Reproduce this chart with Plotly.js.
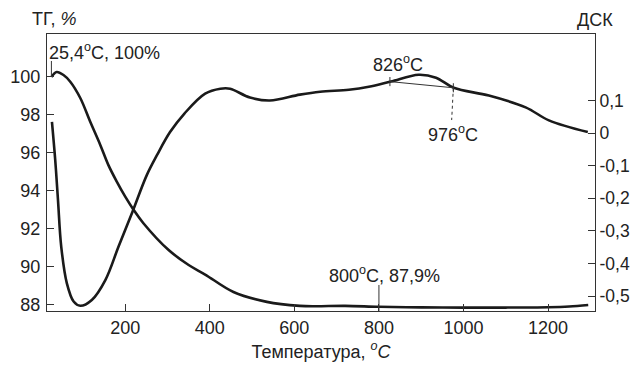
<!DOCTYPE html>
<html>
<head>
<meta charset="utf-8">
<script src="https://cdn.plot.ly/plotly-3.0.1.min.js"></script>
<style>html,body{margin:0;padding:0;background:#fff;}#chart{width:636px;height:365px;}</style>
</head>
<body>
<div id="chart"></div>
<script>
// ТГ (thermogravimetry), left axis, %
const tgTemp = [25.4, 38, 54, 70, 94, 117, 141, 160, 180, 200, 220, 243, 302, 350, 389, 456, 535, 613, 650, 720, 800, 900, 1000, 1100, 1200, 1250, 1295];
const tgValue = [100.0, 100.26, 100.1, 99.75, 98.88, 97.65, 96.42, 95.37, 94.49, 93.7, 93.0, 92.3, 90.9, 90.1, 89.6, 88.68, 88.16, 87.95, 87.93, 87.95, 87.9, 87.87, 87.86, 87.86, 87.88, 87.92, 88.0];

// ДСК (DSC), right axis
const dscTemp = [26.7, 34.5, 41, 48.7, 62, 78, 93.6, 121, 153, 184, 217, 251, 275, 306, 340, 389, 425, 448, 495, 542, 613, 661, 729, 776, 828, 894, 935, 977, 1060, 1147, 1202, 1294];
const dscValue = [0.034, -0.084, -0.206, -0.349, -0.461, -0.517, -0.530, -0.512, -0.451, -0.349, -0.242, -0.129, -0.068, 0.003, 0.06, 0.121, 0.136, 0.136, 0.109, 0.100, 0.118, 0.127, 0.133, 0.142, 0.158, 0.179, 0.170, 0.139, 0.115, 0.079, 0.039, 0.003];

const xTickVals = [200, 400, 600, 800, 1000, 1200];
const yTickVals = [88, 90, 92, 94, 96, 98, 100];
const y2TickVals = [-0.5, -0.4, -0.3, -0.2, -0.1, 0, 0.1];
const y2TickText = ['-0,5', '-0,4', '-0,3', '-0,2', '-0,1', '0', '0,1'];

// Annotated points
const startT = 25.4, startPct = 100;
const peakT1 = 826, peakV1 = 0.158;
const peakT2 = 976, peakV2 = 0.139;
const markT = 800, markPct = 87.9;

const font = {family: 'Liberation Sans, Arial, sans-serif', size: 18, color: '#222'};

const traces = [
  {x: tgTemp, y: tgValue, type: 'scatter', mode: 'lines', line: {color: '#1a1a1a', width: 2.6, shape: 'spline', smoothing: 1}, yaxis: 'y', hoverinfo: 'skip'},
  {x: dscTemp, y: dscValue, type: 'scatter', mode: 'lines', line: {color: '#1a1a1a', width: 2.6, shape: 'spline', smoothing: 1}, yaxis: 'y2', hoverinfo: 'skip'}
];

const layout = {
  width: 636, height: 365,
  margin: {l: 47, r: 41, t: 34, b: 54},
  paper_bgcolor: '#fff', plot_bgcolor: '#fff',
  showlegend: false,
  font: font,
  xaxis: {
    range: [15, 1311], tickvals: xTickVals, ticks: 'inside', ticklen: 7, tickcolor: '#333', tickwidth: 1,
    showline: true, linecolor: '#333', linewidth: 1, mirror: true, showgrid: false, zeroline: false,
    tickfont: font, title: {text: 'Температура, <i><sup>o</sup>C</i>', font: font, standoff: 8}
  },
  yaxis: {
    range: [87.68, 102.26], tickvals: yTickVals, ticks: 'inside', ticklen: 7, tickcolor: '#333', tickwidth: 1,
    showline: true, linecolor: '#333', linewidth: 1, showgrid: false, zeroline: false, tickfont: font,
    ticklabelstandoff: 2
  },
  yaxis2: {
    overlaying: 'y', side: 'right', range: [-0.546, 0.304], tickvals: y2TickVals, ticktext: y2TickText,
    ticks: 'inside', ticklen: 7, tickcolor: '#333', tickwidth: 1,
    showline: true, linecolor: '#333', linewidth: 1, showgrid: false, zeroline: false,
    tickfont: {family: font.family, size: 17.5, color: font.color}
  },
  annotations: [
    {xref: 'paper', yref: 'paper', x: -0.031, y: 1.055, xanchor: 'left', yanchor: 'middle', text: 'ТГ, <i>%</i>', showarrow: false, font: font},
    {xref: 'paper', yref: 'paper', x: 1.0, y: 1.0505, xanchor: 'center', yanchor: 'middle', text: 'ДСК', showarrow: false, font: font},
    {xref: 'x', yref: 'y', x: startT, y: 101.32, xanchor: 'left', yanchor: 'middle', xshift: -4, text: '25,4<sup>o</sup>C, 100%', showarrow: false, font: font},
    {xref: 'x', yref: 'y2', x: peakT1, y: 0.213, xanchor: 'center', yanchor: 'middle', xshift: 8, text: '826<sup>o</sup>C', showarrow: false, font: font},
    {xref: 'x', yref: 'y2', x: peakT2, y: 0.0, xanchor: 'center', yanchor: 'middle', text: '976<sup>o</sup>C', showarrow: false, font: font},
    {xref: 'x', yref: 'y', x: markT, y: 89.58, xanchor: 'center', yanchor: 'middle', xshift: 6, text: '800<sup>o</sup>C, 87,9%', showarrow: false, font: font}
  ],
  shapes: [
    {type: 'line', xref: 'x', yref: 'y', x0: startT, x1: startT, y0: startPct, y1: 100.84, line: {color: '#333', width: 1}},
    {type: 'line', xref: 'x', yref: 'y2', x0: peakT1, x1: peakT2, y0: peakV1, y1: peakV2, line: {color: '#333', width: 1}},
    {type: 'line', xref: 'x', yref: 'y2', x0: peakT1, x1: peakT1, y0: peakV1 - 0.014, y1: peakV1 + 0.014, line: {color: '#333', width: 1}},
    {type: 'line', xref: 'x', yref: 'y2', x0: peakT2, x1: peakT2, y0: peakV2 - 0.014, y1: peakV2 + 0.014, line: {color: '#333', width: 1}},
    {type: 'line', xref: 'x', yref: 'y2', x0: peakT2, x1: peakT2 - 4, y0: peakV2, y1: 0.04, line: {color: '#333', width: 1, dash: 'dot'}},
    {type: 'line', xref: 'x', yref: 'y', x0: markT, x1: markT, y0: 87.68, y1: 89.05, line: {color: '#333', width: 1}}
  ]
};

Plotly.newPlot('chart', traces, layout, {staticPlot: true, displayModeBar: false});
</script>
</body>
</html>
